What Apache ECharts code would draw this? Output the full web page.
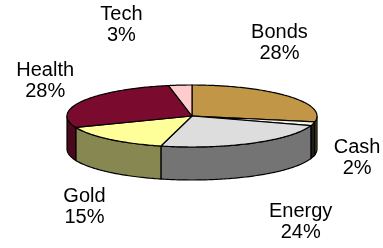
<!DOCTYPE html>
<html>
<head>
<meta charset="utf-8">
<script src="https://cdn.jsdelivr.net/npm/echarts@6/dist/echarts.min.js"></script>
<style>
  html, body { margin: 0; padding: 0; background: #fff; }
  #chart { width: 383px; height: 248px; }
</style>
</head>
<body>
<div id="chart"></div>
<script>
const categories = ['Bonds', 'Cash', 'Energy', 'Gold', 'Health', 'Tech']
const values = [28, 2, 24, 15, 28, 3]

// styling, kept apart from the data
const topColors = ['#C19646', '#F4F4EC', '#DDDDDD', '#FFFF99', '#7A0A2E', '#FFCCCC']
const sideColors = ['#8C6A2C', '#1E1E1E', '#747474', '#878752', '#4A0A1C', '#A88888']
const labelNudge = [[-32, -12], [15, 10], [34, -6], [-5, -5], [-11, 11], [-56, 4]]

const cx = 192, cy = 116, rx = 125, ry = 31, depth = 33
const total = values.reduce((a, b) => a + b, 0)
const starts = []
let acc = 0
values.forEach(v => { starts.push(acc / total * 360); acc += v })

const pt = (deg, dy) => {
  const r = deg * Math.PI / 180
  return [cx + rx * Math.sin(r), cy - ry * Math.cos(r) + dy]
}
const arc = (a0, a1, dy) => {
  const pts = []
  const n = Math.max(2, Math.ceil(Math.abs(a1 - a0)))
  for (let k = 0; k <= n; k++) pts.push(pt(a0 + (a1 - a0) * k / n, dy))
  return pts
}

const renderItem = (params, api) => {
  const i = params.dataIndex
  const v = api.value(0)
  const s = starts[i]
  const e = s + v / total * 360
  const children = []

  // outer wall, only the front half shows
  const ws = Math.max(s, 90), we = Math.min(e, 270)
  if (we > ws) {
    const pts = arc(ws, we, 0).concat(arc(we, ws, depth))
    children.push({
      type: 'polygon', z2: 1,
      shape: { points: pts },
      style: { fill: sideColors[i], stroke: '#000', lineWidth: 1.2 }
    })
  }

  // top face
  children.push({
    type: 'polygon', z2: 10,
    shape: { points: [[cx, cy]].concat(arc(s, e, 0)) },
    style: { fill: topColors[i], stroke: '#000', lineWidth: 1.2, lineJoin: 'round' }
  })

  // label
  const m = (s + e) / 2 * Math.PI / 180
  const lx = cx + 155 * Math.sin(m) + labelNudge[i][0]
  const ly = cy - 95 * Math.cos(m) + (Math.cos(m) < 0 ? -depth * Math.cos(m) : 0) + labelNudge[i][1]
  children.push({
    type: 'text', z2: 20,
    style: {
      text: categories[i] + '\n' + Math.round(v / total * 100) + '%',
      x: lx, y: ly,
      align: 'center', verticalAlign: 'middle',
      fontFamily: 'Liberation Sans, Arial, sans-serif',
      fontSize: 20, lineHeight: 21,
      fill: '#000'
    }
  })

  return { type: 'group', children }
}

const chart = echarts.init(document.getElementById('chart'), null, { renderer: 'canvas' })
chart.setOption({
  animation: false,
  series: [{
    type: 'custom',
    coordinateSystem: 'none',
    silent: true,
    renderItem,
    data: values.map((v, i) => ({ name: categories[i], value: [v] }))
  }]
})
</script>
</body>
</html>
